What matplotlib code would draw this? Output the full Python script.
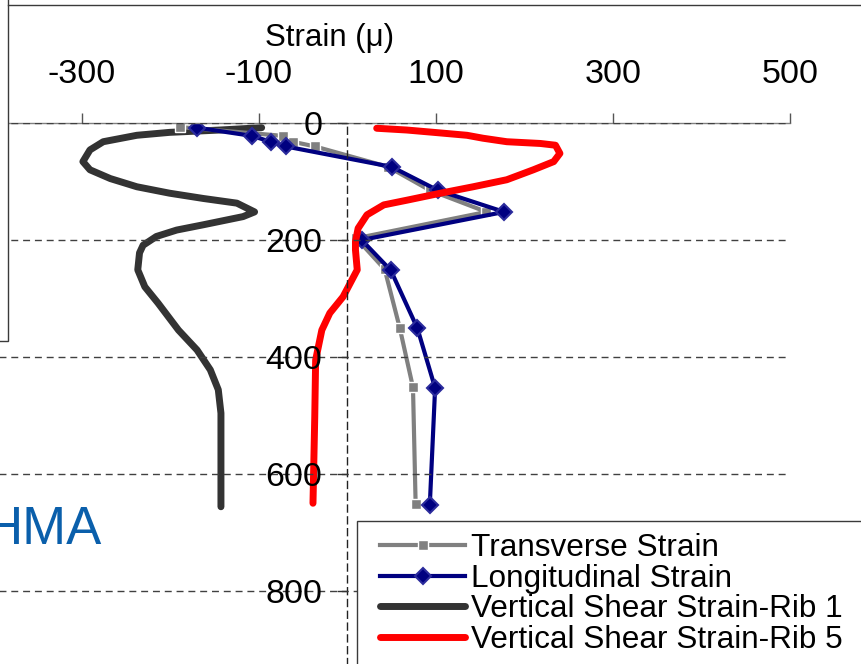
import matplotlib
matplotlib.use("Agg")
import matplotlib.pyplot as plt
from matplotlib.lines import Line2D
from matplotlib.patches import Rectangle

plt.rcParams['font.family'] = ['Liberation Sans', 'DejaVu Sans']

# strain profiles: strain (micro) vs depth (mm)
trans_depth = [7, 22, 32, 40, 75, 115, 152, 197, 250, 350, 452, 652]
trans_strain = [-189, -73, -62, -37, 46, 93, 157, 10, 42, 59, 74, 77]

long_depth = [8, 22, 32, 40, 75, 115, 152, 200, 252, 351, 453, 653]
long_strain = [-170, -108, -87, -70, 50, 102, 177, 16, 49, 79, 99, 93]

rib1_strain = [-97, -144, -201, -238, -276, -291, -299, -291, -268, -238, -201,
               -163, -125, -105, -118, -163, -193, -216, -231, -235, -237, -229,
               -214, -191, -170, -155, -146, -143, -143]
rib1_depth = [8, 12, 16, 21, 32, 46, 66, 80, 95, 109, 120, 129, 137, 152, 160,
              174, 183, 194, 209, 222, 251, 280, 308, 354, 388, 422, 456, 496, 656]

rib5_strain = [33, 67, 105, 135, 153, 180, 218, 235, 240, 233, 210, 180, 142,
               105, 67, 41, 22, 12, 9, 9, 11, -5, -20, -29, -36, -37, -39]
rib5_depth = [9, 12, 17, 21, 26, 32, 35, 38, 52, 66, 80, 97, 109, 120, 132,
              140, 157, 180, 203, 217, 251, 297, 325, 354, 405, 502, 650]

x_ticks = [-300, -100, 100, 300, 500]
y_ticks = [0, 200, 400, 600, 800]

W, H = 862, 664


def fx(px):
    return px / W


def fy(py):
    return 1 - py / H


fig = plt.figure(figsize=(W / 100, H / 100), dpi=100)
ax = fig.add_axes([fx(-6.5), fy(708), 796.5 / W, 585 / H])
ax.set_xlim(-400, 500)
ax.set_ylim(1000, 0)

ax.plot(rib1_strain, rib1_depth, color='#333333', lw=5, solid_capstyle='round',
        solid_joinstyle='round', zorder=2.0, label='Vertical Shear Strain-Rib 1')
ax.plot(trans_strain, trans_depth, color='#808080', lw=3, marker='s', ms=7,
        mfc='#808080', mec='white', mew=1, zorder=2.1, label='Transverse Strain')
ax.plot(long_strain, long_depth, color='#000080', lw=3, marker='D', ms=8.5,
        mfc='#000080', mec='#2b2b9c', mew=1.5, zorder=2.2, label='Longitudinal Strain')
ax.plot(rib5_strain, rib5_depth, color='#ff0000', lw=5, solid_capstyle='round',
        solid_joinstyle='round', zorder=2.3, label='Vertical Shear Strain-Rib 5')

# axes styling
for s in ['right', 'bottom']:
    ax.spines[s].set_visible(False)
ax.spines['top'].set_color('#808080')
ax.spines['top'].set_linewidth(1)
ax.spines['left'].set_position(('data', 0))
ax.spines['left'].set_linestyle((0, (5, 3.5)))
ax.spines['left'].set_color('#222222')
ax.spines['left'].set_linewidth(1)

ax.xaxis.tick_top()
ax.set_xticks(x_ticks)
ax.set_xticklabels([str(v) for v in x_ticks])
ax.tick_params(axis='x', direction='out', length=7, width=1, color='#555555',
               labelsize=24.5, pad=17)
ax.set_yticks(y_ticks)
ax.set_yticklabels([str(v) for v in y_ticks])
ax.tick_params(axis='y', direction='out', length=7, width=1, color='#333333',
               labelsize=24.5, pad=11)
ax.yaxis.grid(True, linestyle=(0, (5, 3.5)), color='#404040', lw=1)
ax.set_axisbelow(False)

fig.text(fx(330), fy(46), 'Strain (\u03bc)', fontsize=22.5, ha='center', va='baseline')
fig.text(fx(-15), fy(544), 'HMA', fontsize=38, color='#0a5fab', ha='left', va='baseline')

# frame pieces around the top-left
fig.add_artist(Rectangle((fx(-20), fy(341)), fx(28), 346 / H, transform=fig.transFigure,
                         facecolor='white', edgecolor='#3a3a3a', lw=1, zorder=1))
fig.add_artist(Line2D([fx(8), fx(870)], [fy(5), fy(5)], transform=fig.transFigure,
                      color='#3a3a3a', lw=1, zorder=1))

# legend box
fig.add_artist(Rectangle((fx(357), fy(700)), fx(560), 179 / H, transform=fig.transFigure,
                         facecolor='white', edgecolor='#3a3a3a', lw=1, zorder=1))
handles, labels = ax.get_legend_handles_labels()
order = [1, 2, 0, 3]
fig.legend([handles[i] for i in order], [labels[i] for i in order],
           loc='upper left', bbox_to_anchor=(fx(380), fy(533)), bbox_transform=fig.transFigure,
           frameon=False, fontsize=22.7, handlelength=2.7, handletextpad=0.2,
           labelspacing=0.02, borderpad=0, borderaxespad=0)

plt.savefig('out.png', dpi=100)
